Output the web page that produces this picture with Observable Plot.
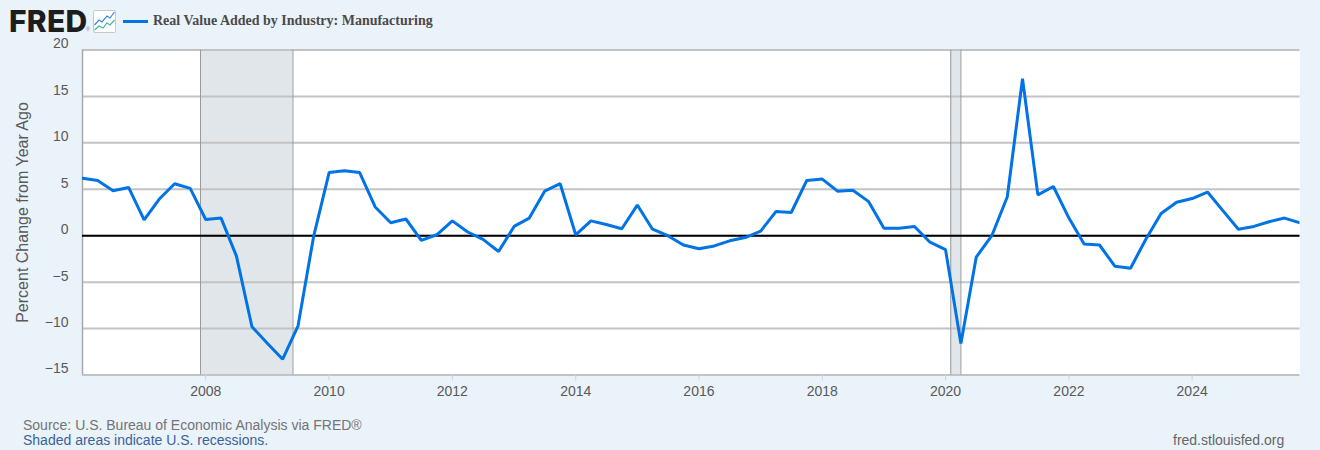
<!DOCTYPE html>
<html>
<head>
<meta charset="utf-8">
<script src="https://cdn.jsdelivr.net/npm/d3@7"></script>
<script src="https://cdn.jsdelivr.net/npm/@observablehq/plot@0.6"></script>
<style>
html,body{margin:0;padding:0;background:#eaf2fa;width:1320px;height:450px;overflow:hidden;font-family:"Liberation Sans",Arial,sans-serif}
#wrap{position:relative;width:1320px;height:450px}
#chart{position:absolute;left:0;top:0}
#chart svg{display:block;background:transparent}
.t{position:absolute;white-space:nowrap}
#logo{left:9px;top:9px;font:800 30px/24px Inter,"Liberation Sans",sans-serif;color:#1d1d1d;letter-spacing:.3px}
#reg{left:86px;top:26px;font:5px/6px "Liberation Sans",sans-serif;color:#777}
#icon{left:93px;top:10px}
#swatch{left:123px;top:20px;width:25px;height:3px;background:#0073e6}
#title{left:153px;top:13px;font:bold 14px/16px "Liberation Serif",serif;color:#4a4a4a}
#src{left:23px;top:418px;font:14px/15px "Liberation Sans",sans-serif;color:#747474}
#shade{left:23px;top:433px;font:14px/15px "Liberation Sans",sans-serif;color:#3b6398}
#site{left:1173px;top:433px;font:14px/15px "Liberation Sans",sans-serif;color:#666}
</style>
</head>
<body>
<div id="wrap">
  <div id="chart"></div>
  <div class="t" id="logo">FRED</div>
  <div class="t" id="reg">®</div>
  <svg class="t" id="icon" width="23" height="23" viewBox="0 0 23 23">
    <rect x="0.5" y="0.5" width="22" height="22" rx="1.5" fill="#fff" stroke="#c8c8c8"/>
    <path d="M1.5 15 L6 10 L9 12 L14 6 L17 8 L21.5 2" fill="none" stroke="#3a86d6" stroke-width="1.2"/>
    <path d="M1.5 20 L6 16 L10 18 L14 13 L17 15 L21.5 10" fill="none" stroke="#45b59c" stroke-width="1.2"/>
  </svg>
  <div class="t" id="swatch"></div>
  <div class="t" id="title">Real Value Added by Industry: Manufacturing</div>
  <div class="t" id="src">Source: U.S. Bureau of Economic Analysis via FRED®</div>
  <div class="t" id="shade">Shaded areas indicate U.S. recessions.</div>
  <div class="t" id="site">fred.stlouisfed.org</div>
</div>
<script>
const startDate = "2006-01-01";
const endDate = "2025-10-01";
const yearTicks = [2008,2010,2012,2014,2016,2018,2020,2022,2024];
const yTicks = [-15,-10,-5,0,5,10,15,20];
const recessionStarts = ["2007-12-01","2020-02-01"];
const recessionEnds = ["2009-06-01","2020-04-01"];
const values = [
  6.2,5.95,4.85,5.2,
  1.7,3.95,5.6,5.1,
  1.75,1.9,-2.2,-9.8,
  -11.6,-13.3,-9.7,-0.1,
  6.8,7.0,6.8,3.1,
  1.4,1.8,-0.5,0.1,
  1.6,0.4,-0.4,-1.7,
  1.0,1.9,4.8,5.6,
  0.1,1.6,1.2,0.75,
  3.3,0.7,0.0,-1.0,
  -1.4,-1.1,-0.55,-0.2,
  0.5,2.6,2.5,5.95,
  6.1,4.8,4.9,3.7,
  0.8,0.8,1.0,-0.7,
  -1.5,-11.6,-2.3,0.0,
  4.2,16.9,4.4,5.3,
  1.9,-0.9,-1.0,-3.3,
  -3.5,-0.4,2.4,3.6,
  4.0,4.7,2.7,0.7,
  1.0,1.5,1.9,1.4
];
const dates = d3.utcMonth.every(3).range(new Date(startDate), d3.utcDay.offset(new Date(endDate),1));
const series = values.map((v,i)=>({date:dates[i],value:v}));
const recessions = recessionStarts.map((s,i)=>({start:new Date(s),end:new Date(recessionEnds[i])}));
const xTicks = yearTicks.map(y=>new Date(Date.UTC(y,0,1)));
const chart = Plot.plot({
  width:1320,height:450,
  marginLeft:82,marginRight:20.5,marginTop:49.5,marginBottom:75.5,
  style:{background:"transparent",fontFamily:"'Liberation Sans',Arial,sans-serif"},
  x:{type:"utc",domain:[new Date(startDate),new Date(endDate)],label:null},
  y:{domain:[-15,20],label:null},
  marks:[
    Plot.frame({fill:"#fff",stroke:null}),
    Plot.rectY(recessions,{x1:"start",x2:"end",y1:-15,y2:20,fill:"#e1e6ea"}),
    Plot.ruleY(yTicks,{stroke:"#c3c3c3",strokeWidth:2,strokeOpacity:1}),
    Plot.ruleX(recessions.flatMap(r=>[r.start,r.end]),{stroke:"#9a9a9a",strokeWidth:1}),
    Plot.ruleX([new Date(startDate)],{stroke:"#a8a8a8",strokeWidth:1.5}),
    Plot.ruleY([0],{stroke:"#000",strokeWidth:2}),
    Plot.line(series,{x:"date",y:"value",stroke:"#0073e6",strokeWidth:3,strokeLinejoin:"miter",clip:true}),
    Plot.axisX({ticks:xTicks,tickFormat:d=>d3.utcFormat("%Y")(d),tickSize:6,stroke:"#c5d5ea",fill:"#595959",color:"#595959",fontSize:14,tickPadding:5,label:null,textStroke:"none"}),
    Plot.axisY({ticks:yTicks,tickSize:0,tickPadding:14,fontSize:14,fill:"#595959",dy:-6,label:null}),
    Plot.text(["Percent Change from Year Ago"],{frameAnchor:"left",dx:-60,rotate:-90,textAnchor:"middle",fontSize:16,fill:"#595959"})
  ]
});
document.getElementById("chart").appendChild(chart);
</script>
</body>
</html>
